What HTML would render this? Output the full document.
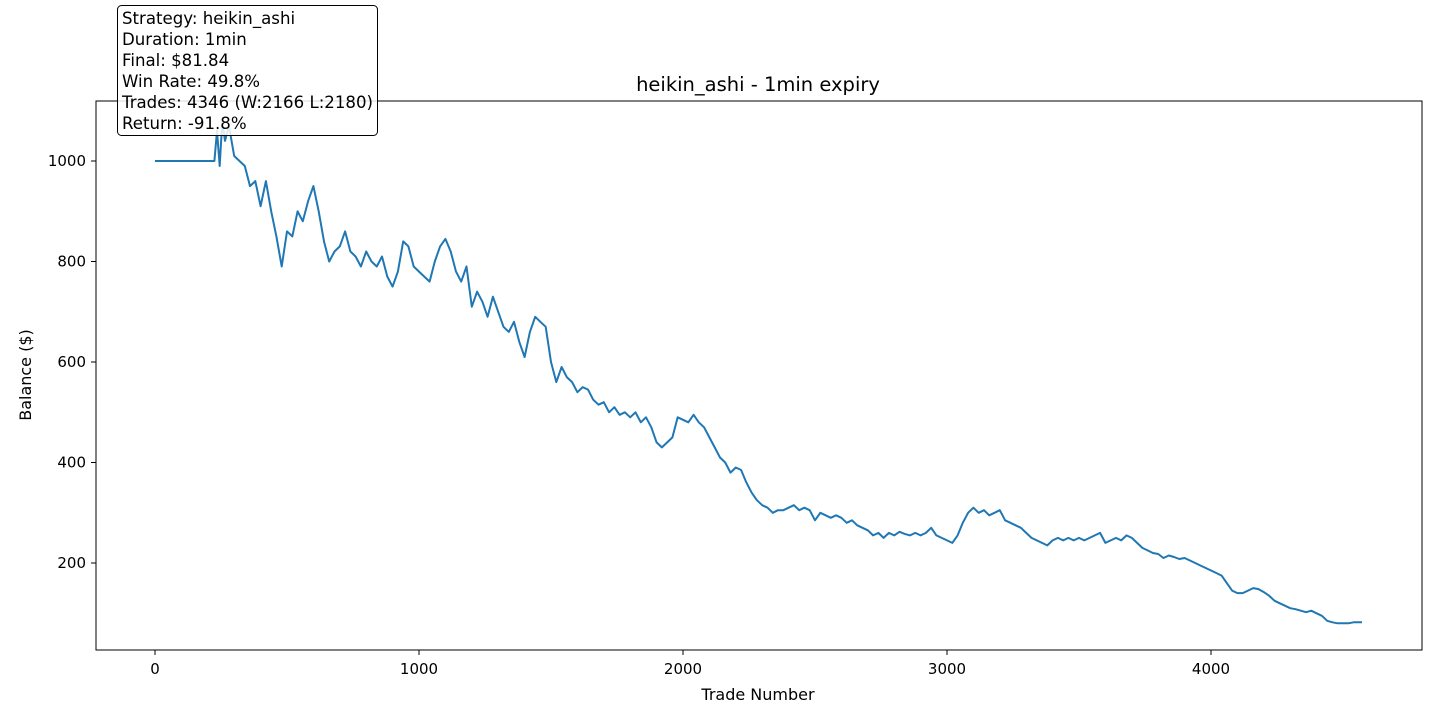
<!DOCTYPE html>
<html><head><meta charset="utf-8"><style>
html,body{margin:0;padding:0;background:#fff;}
svg{display:block;font-family:"DejaVu Sans","Liberation Sans",sans-serif;}
</style></head><body>
<svg id="chart" width="1440" height="720" viewBox="0 0 1440 720">
<rect x="0" y="0" width="1440" height="720" fill="#fff"/>
<text x="758" y="91" font-size="19.5" text-anchor="middle">heikin_ashi - 1min expiry</text>
<g id="xticks"></g>
<g id="yticks"></g>
<path id="line" fill="none" stroke="#1f77b4" stroke-width="2" stroke-linejoin="round"/>
<rect x="96" y="101" width="1326" height="549" fill="none" stroke="#000" stroke-width="1"/>
<text x="758" y="700" font-size="16" text-anchor="middle">Trade Number</text>
<text transform="translate(31,375) rotate(-90)" font-size="16" text-anchor="middle">Balance ($)</text>
<g>
<rect x="117.5" y="5.5" width="260" height="130" rx="4" fill="#fff" fill-opacity="0.85" stroke="#000" stroke-width="1"/>
<text x="122" y="24" font-size="16.6">Strategy: heikin_ashi</text>
<text x="122" y="45" font-size="16.6">Duration: 1min</text>
<text x="122" y="66" font-size="16.6">Final: $81.84</text>
<text x="122" y="87" font-size="16.6">Win Rate: 49.8%</text>
<text x="122" y="108" font-size="16.6">Trades: 4346 (W:2166 L:2180)</text>
<text x="122" y="129" font-size="16.6">Return: -91.8%</text>
</g>
</svg>
<script>
const xTicks=[0,1000,2000,3000,4000];
const yTicks=[200,400,600,800,1000];
const trades=[0,225,235,245,255,265,280,300,320,340,360,380,400,420,440,460,480,500,520,540,560,580,600,620,640,660,680,700,720,740,760,780,800,820,840,860,880,900,920,940,960,980,1000,1020,1040,1060,1080,1100,1120,1140,1160,1180,1200,1220,1240,1260,1280,1300,1320,1340,1360,1380,1400,1420,1440,1460,1480,1500,1520,1540,1560,1580,1600,1620,1640,1660,1680,1700,1720,1740,1760,1780,1800,1820,1840,1860,1880,1900,1920,1940,1960,1980,2000,2020,2040,2060,2080,2100,2120,2140,2160,2180,2200,2220,2240,2260,2280,2300,2320,2340,2360,2380,2400,2420,2440,2460,2480,2500,2520,2540,2560,2580,2600,2620,2640,2660,2680,2700,2720,2740,2760,2780,2800,2820,2840,2860,2880,2900,2920,2940,2960,2980,3000,3020,3040,3060,3080,3100,3120,3140,3160,3180,3200,3220,3240,3260,3280,3300,3320,3340,3360,3380,3400,3420,3440,3460,3480,3500,3520,3540,3560,3580,3600,3620,3640,3660,3680,3700,3720,3740,3760,3780,3800,3820,3840,3860,3880,3900,3920,3940,3960,3980,4000,4020,4040,4060,4080,4100,4120,4140,4160,4180,4200,4220,4240,4260,4280,4300,4320,4340,4360,4380,4400,4420,4440,4460,4480,4500,4520,4540,4560,4572];
const balance=[1000,1000,1060,990,1080,1040,1070,1010,1000,990,950,960,910,960,900,850,790,860,850,900,880,920,950,900,840,800,820,830,860,820,810,790,820,800,790,810,770,750,780,840,830,790,780,770,760,800,830,845,820,780,760,790,710,740,720,690,730,700,670,660,680,640,610,660,690,680,670,600,560,590,570,560,540,550,545,525,515,520,500,510,495,500,490,500,480,490,470,440,430,440,450,490,485,480,495,480,470,450,430,410,400,380,390,385,360,340,325,315,310,300,305,305,310,315,305,310,305,285,300,295,290,295,290,280,285,275,270,265,255,260,250,260,255,262,258,255,260,255,260,270,255,250,245,240,255,280,300,310,300,305,295,300,305,285,280,275,270,260,250,245,240,235,245,250,245,250,245,250,245,250,255,260,240,245,250,245,255,250,240,230,225,220,218,210,215,212,208,210,205,200,195,190,185,180,175,160,145,140,140,145,150,148,142,135,125,120,115,110,108,105,102,105,100,95,85,82,80,80,80,82,82,82];
const xs=t=>155+t*0.264;
const ys=v=>663.5-v*0.5025;
const NS='http://www.w3.org/2000/svg';
const gx=document.getElementById('xticks'),gy=document.getElementById('yticks');
xTicks.forEach(t=>{
  const l=document.createElementNS(NS,'line');
  l.setAttribute('x1',xs(t));l.setAttribute('x2',xs(t));l.setAttribute('y1',650);l.setAttribute('y2',655);l.setAttribute('stroke','#000');
  
  
  gx.appendChild(l);
  const tx=document.createElementNS(NS,'text');
  tx.setAttribute('x',xs(t));tx.setAttribute('y',674);tx.setAttribute('font-size','15');tx.setAttribute('text-anchor','middle');tx.textContent=t;
  
  
  gx.appendChild(tx);
});
yTicks.forEach(v=>{
  const l=document.createElementNS(NS,'line');
  l.setAttribute('x1',91);l.setAttribute('x2',96);l.setAttribute('y1',ys(v));l.setAttribute('y2',ys(v));l.setAttribute('stroke','#000');
  
  
  gy.appendChild(l);
  const tx=document.createElementNS(NS,'text');
  tx.setAttribute('x',86);tx.setAttribute('y',ys(v)+5);tx.setAttribute('font-size','15');tx.setAttribute('text-anchor','end');tx.textContent=v;
  
  
  gy.appendChild(tx);
});
document.getElementById('line').setAttribute('d',trades.map((t,i)=>(i?'L':'M')+xs(t).toFixed(1)+','+ys(balance[i]).toFixed(1)).join(''));
</script>
</body></html>
